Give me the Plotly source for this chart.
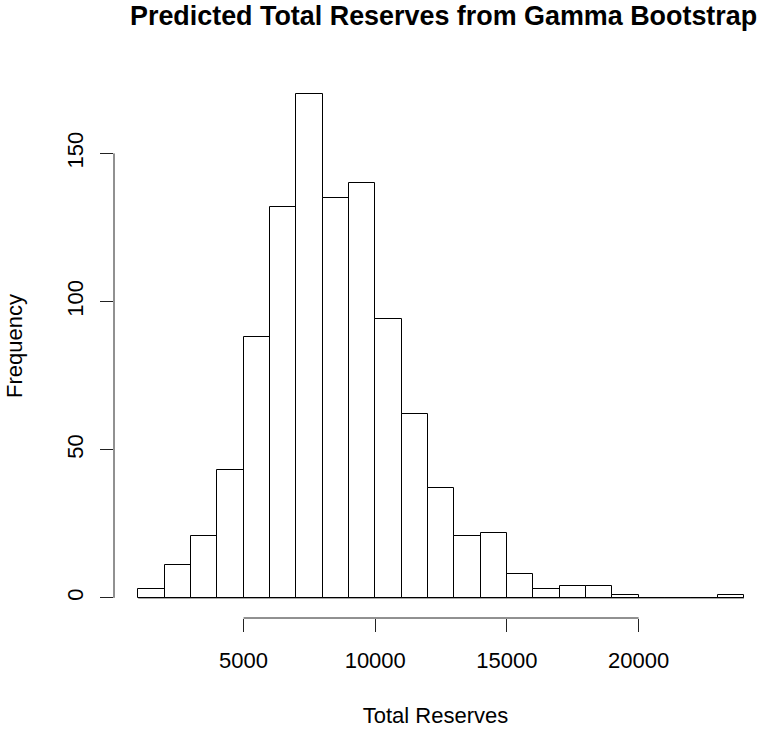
import numpy as np
import plotly.graph_objects as go

# Histogram data (bin edges of 1000, counts)
bin_edges = list(range(1000, 25000, 1000))
counts = [3, 11, 21, 43, 88, 132, 170, 135, 140, 94, 62, 37, 21, 22, 8, 3, 4, 4, 1, 0, 0, 0, 1]
x_ticks = [5000, 10000, 15000, 20000]
y_ticks = [0, 50, 100, 150]
title_text = "Predicted Total Reserves from Gamma Bootstrap"
x_label = "Total Reserves"
y_label = "Frequency"

edges = np.array(bin_edges, dtype=float)
centers = (edges[:-1] + edges[1:]) / 2
widths = np.diff(edges)

FONT = "Liberation Sans, Arial, Helvetica, sans-serif"
W, H = 757, 731
L = 114
T = 73.7
B = H - 618.5
px_per_unit = (743.7 - 138.0) / (edges[-1] - edges[0])
pad_x = 0.04 * (edges[-1] - edges[0])
x0 = edges[0] - pad_x
x1 = x0 + (W - L) / px_per_unit
ymax = max(counts)
pad_y = 0.04 * ymax

fig = go.Figure()
fig.add_trace(go.Bar(
    x=centers, y=counts, width=widths,
    marker=dict(color="white", line=dict(color="black", width=1)),
    hoverinfo="x+y", showlegend=False,
))

# baseline under zero-count bins (R draws flat rectangles)
fig.add_shape(type="line", xref="x", yref="y", x0=edges[0], x1=edges[-1], y0=0, y1=0,
              line=dict(color="black", width=1))
# R-style axis lines spanning first..last tick
fig.add_shape(type="line", xref="x", yref="paper", x0=x_ticks[0], x1=x_ticks[-1], y0=0, y1=0,
              line=dict(color="#222", width=1))
fig.add_shape(type="line", xref="paper", yref="y", x0=0, x1=0, y0=y_ticks[0], y1=y_ticks[-1],
              line=dict(color="#222", width=1))

fig.update_layout(
    width=W, height=H,
    margin=dict(l=L, r=0, t=T, b=B, autoexpand=False),
    plot_bgcolor="white", paper_bgcolor="white",
    bargap=0,
    font=dict(family=FONT, size=22, color="black"),
    title=dict(text="<b>" + title_text + "</b>", font=dict(size=26.9, family=FONT, color="black"),
               xref="container", x=130 / W, xanchor="left",
               yref="container", y=1 - 15.5 / H, yanchor="middle", automargin=False),
    xaxis=dict(range=[x0, x1], tickvals=x_ticks, ticktext=[str(v) for v in x_ticks],
               automargin=False,
               showgrid=False, zeroline=False, showline=False,
               ticks="outside", ticklen=13, tickwidth=1, tickcolor="#222",
               ticklabelstandoff=10,
               title=dict(text=x_label, font=dict(size=22), standoff=35)),
    yaxis=dict(range=[-pad_y, ymax + pad_y], tickvals=y_ticks, ticktext=[str(v) for v in y_ticks],
               tickangle=-90, automargin=False,
               showgrid=False, zeroline=False, showline=False,
               ticks="outside", ticklen=13, tickwidth=1, tickcolor="#222",
               ticklabelstandoff=8,
               title=dict(text=y_label, font=dict(size=22), standoff=34)),
)

fig.write_html("out.html", config={"displayModeBar": False},
               post_script="document.body.style.margin='0px';")
